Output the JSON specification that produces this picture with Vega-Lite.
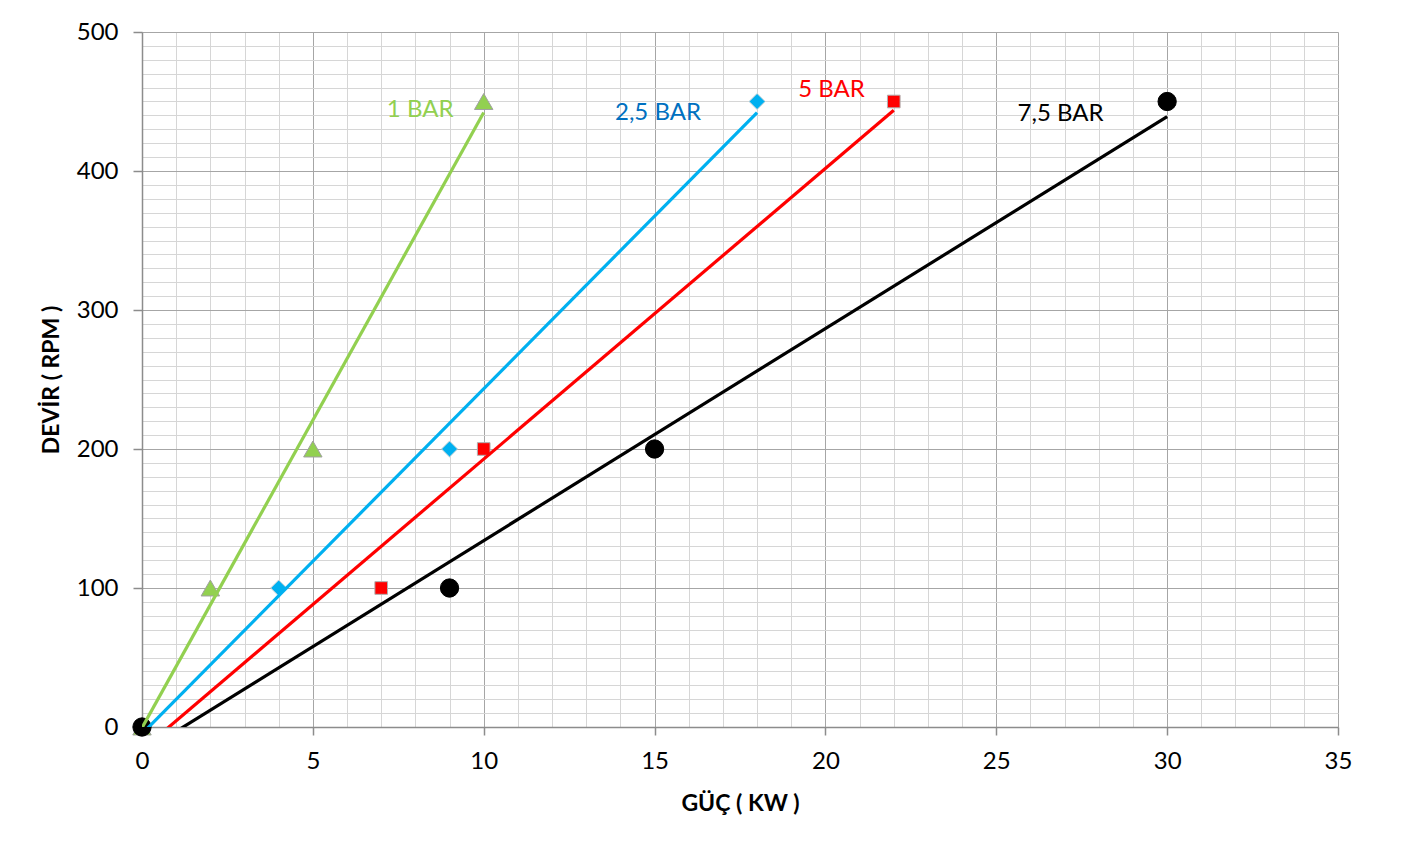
{
  "$schema": "https://vega.github.io/schema/vega-lite/v6.json",
  "width": 1196,
  "height": 695,
  "autosize": "none",
  "padding": {"left": 142, "top": 32, "right": 65, "bottom": 122},
  "background": "white",
  "config": {"view": {"stroke": null}, "font": "Lato"},
  "datasets": {
    "pts": [
      {"series": "1 BAR", "kw": 0, "rpm": 0},
      {"series": "1 BAR", "kw": 2, "rpm": 100},
      {"series": "1 BAR", "kw": 5, "rpm": 200},
      {"series": "1 BAR", "kw": 10, "rpm": 450},
      {"series": "2,5 BAR", "kw": 0, "rpm": 0},
      {"series": "2,5 BAR", "kw": 4, "rpm": 100},
      {"series": "2,5 BAR", "kw": 9, "rpm": 200},
      {"series": "2,5 BAR", "kw": 18, "rpm": 450},
      {"series": "5 BAR", "kw": 0, "rpm": 0},
      {"series": "5 BAR", "kw": 7, "rpm": 100},
      {"series": "5 BAR", "kw": 10, "rpm": 200},
      {"series": "5 BAR", "kw": 22, "rpm": 450},
      {"series": "7,5 BAR", "kw": 0, "rpm": 0},
      {"series": "7,5 BAR", "kw": 9, "rpm": 100},
      {"series": "7,5 BAR", "kw": 15, "rpm": 200},
      {"series": "7,5 BAR", "kw": 30, "rpm": 450}
    ],
    "labels": [
      {"series": "1 BAR", "kw": 8.14, "rpm": 444},
      {"series": "2,5 BAR", "kw": 15.1, "rpm": 442},
      {"series": "5 BAR", "kw": 20.18, "rpm": 458},
      {"series": "7,5 BAR", "kw": 26.88, "rpm": 441}
    ]
  },
  "layer": [
    {
      "data": {"name": "pts"},
      "mark": {"type": "point", "filled": true, "strokeWidth": 1, "opacity": 1},
      "encoding": {
        "x": {
          "field": "kw", "type": "quantitative",
          "scale": {"domain": [0, 35], "nice": false, "zero": false},
          "axis": {
            "orient": "bottom",
            "values": [0,1,2,3,4,5,6,7,8,9,10,11,12,13,14,15,16,17,18,19,20,21,22,23,24,25,26,27,28,29,30,31,32,33,34,35],
            "grid": true, "gridColor": "#D6D6D6", "gridWidth": 1,
            "labels": false, "ticks": false, "domain": false, "title": null
          }
        },
        "y": {
          "field": "rpm", "type": "quantitative",
          "scale": {"domain": [0, 500], "nice": false, "zero": false},
          "axis": {
            "orient": "left",
            "values": [0,10,20,30,40,50,60,70,80,90,100,110,120,130,140,150,160,170,180,190,200,210,220,230,240,250,260,270,280,290,300,310,320,330,340,350,360,370,380,390,400,410,420,430,440,450,460,470,480,490,500],
            "grid": true, "gridColor": "#D6D6D6", "gridWidth": 1,
            "labels": false, "ticks": false, "domain": false, "title": null
          }
        },
        "shape": {
          "field": "series", "type": "nominal", "legend": null,
          "scale": {"type": "ordinal", "domain": ["1 BAR", "2,5 BAR", "5 BAR", "7,5 BAR"], "range": ["triangle-up", "diamond", "square", "circle"]}
        },
        "size": {
          "field": "series", "type": "nominal", "legend": null,
          "scale": {"type": "ordinal", "domain": ["1 BAR", "2,5 BAR", "5 BAR", "7,5 BAR"], "range": [340, 260, 160, 335]}
        },
        "fill": {
          "field": "series", "type": "nominal", "legend": null,
          "scale": {"type": "ordinal", "domain": ["1 BAR", "2,5 BAR", "5 BAR", "7,5 BAR"], "range": ["#92D050", "#00B0F0", "#FF0000", "#000000"]}
        },
        "stroke": {
          "field": "series", "type": "nominal", "legend": null,
          "scale": {"type": "ordinal", "domain": ["1 BAR", "2,5 BAR", "5 BAR", "7,5 BAR"], "range": ["#A0A0A0", "#D8D8D8", "#B0B0B0", "#000000"]}
        }
      }
    },
    {
      "data": {"name": "pts"},
      "transform": [{"regression": "rpm", "on": "kw", "groupby": ["series"]}],
      "mark": {"type": "line", "clip": true, "strokeWidth": 3.2},
      "encoding": {
        "x": {
          "field": "kw", "type": "quantitative",
          "axis": {
            "orient": "bottom",
            "values": [0, 5, 10, 15, 20, 25, 30, 35],
            "grid": true, "gridColor": "#A6A6A6", "gridWidth": 1,
            "domain": true, "domainColor": "#8C8C8C", "domainWidth": 1.5,
            "ticks": true, "tickColor": "#8C8C8C", "tickSize": 8, "tickWidth": 1.5,
            "labelFontSize": 24, "labelColor": "#000000", "labelPadding": 14, "labelFlush": false, "labelFont": "Lato",
            "title": "GÜÇ ( KW )", "titleFontSize": 23, "titleFontWeight": "bold", "titleColor": "#000000", "titlePadding": 19, "titleFont": "Lato"
          }
        },
        "y": {
          "field": "rpm", "type": "quantitative",
          "axis": {
            "orient": "left",
            "values": [0, 100, 200, 300, 400, 500],
            "grid": true, "gridColor": "#A6A6A6", "gridWidth": 1,
            "domain": true, "domainColor": "#8C8C8C", "domainWidth": 1.5,
            "ticks": true, "tickColor": "#8C8C8C", "tickSize": 9, "tickWidth": 1.5,
            "labelFontSize": 24, "labelColor": "#000000", "labelPadding": 15, "labelFlush": false, "labelFont": "Lato",
            "title": "DEVİR ( RPM )", "titleFontSize": 23, "titleFontWeight": "bold", "titleColor": "#000000", "titlePadding": 13, "titleFont": "Lato"
          }
        },
        "color": {
          "field": "series", "type": "nominal", "legend": null,
          "scale": {"domain": ["1 BAR", "2,5 BAR", "5 BAR", "7,5 BAR"], "range": ["#92D050", "#00B0F0", "#FF0000", "#000000"]}
        }
      }
    },
    {
      "data": {"name": "labels"},
      "mark": {"type": "text", "fontSize": 24, "font": "Lato", "align": "center", "baseline": "middle"},
      "encoding": {
        "x": {"field": "kw", "type": "quantitative", "axis": null},
        "y": {"field": "rpm", "type": "quantitative", "axis": null},
        "text": {"field": "series", "type": "nominal"},
        "color": {
          "field": "series", "type": "nominal", "legend": null,
          "scale": {"domain": ["1 BAR", "2,5 BAR", "5 BAR", "7,5 BAR"], "range": ["#92D050", "#0070C0", "#FF0000", "#000000"]}
        }
      }
    }
  ],
  "resolve": {
    "axis": {"x": "independent", "y": "independent"},
    "scale": {"color": "independent"}
  }
}
